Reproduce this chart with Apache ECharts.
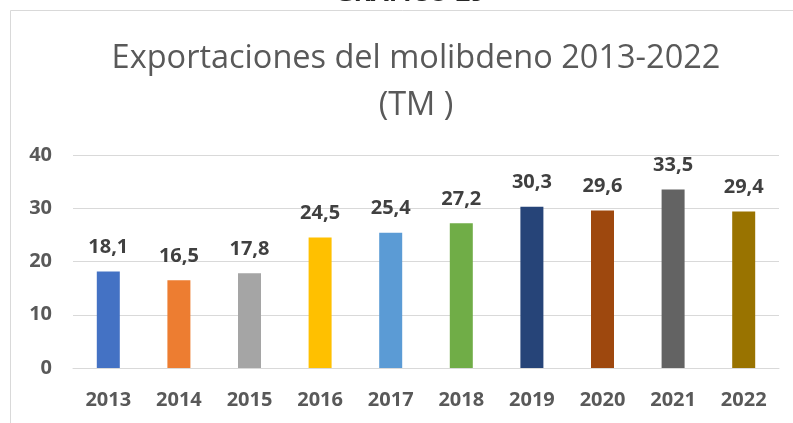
<!DOCTYPE html>
<html>
<head>
<meta charset="utf-8">
<script src="https://cdn.jsdelivr.net/npm/echarts@6/dist/echarts.min.js"></script>
<style>
html,body{margin:0;padding:0;background:#fff;}
#c{width:793px;height:423px;}
</style>
</head>
<body>
<div id="c"></div>
<script>
var years = ['2013','2014','2015','2016','2017','2018','2019','2020','2021','2022'];
var exportsTM = [18.1, 16.5, 17.8, 24.5, 25.4, 27.2, 30.3, 29.6, 33.5, 29.4];
var barColors = ['#4472C4','#ED7D31','#A5A5A5','#FFC000','#5B9BD5','#70AD47','#264478','#9E480E','#636363','#997300'];
var yTicks = [0, 10, 20, 30, 40];

var chart = echarts.init(document.getElementById('c'), null, {renderer:'canvas'});
var FONT = '"Open Sans", sans-serif';
chart.setOption({
  animation: false,
  backgroundColor: '#ffffff',
  graphic: [
    {type:'rect', shape:{x:10.5, y:10.5, width:900, height:500}, style:{fill:'none', stroke:'#d9d9d9', lineWidth:1}, silent:true, z:-1},
    {type:'text', x:410, y:-19, style:{text:'GRÁFICO 29', textAlign:'center', textVerticalAlign:'top', fontFamily:FONT, fontWeight:'bold', fontSize:26, fill:'#262626'}}
  ],
  title: {
    text: 'Exportaciones del molibdeno 2013-2022\n(TM )',
    left: 411,
    top: 30,
    textAlign: 'center',
    textStyle: {fontFamily: FONT, fontWeight: 'normal', fontSize: 32.5, lineHeight: 47, color: '#595959'}
  },
  grid: {left: 73, right: 14, top: 155, bottom: 55, containLabel: false},
  xAxis: {
    type: 'category',
    data: years,
    axisTick: {show: false},
    axisLine: {lineStyle: {color: '#d9d9d9', width: 1}},
    axisLabel: {margin: 22, fontFamily: FONT, fontWeight: 'bold', fontSize: 20, color: '#595959'}
  },
  yAxis: {
    type: 'value',
    min: yTicks[0],
    max: yTicks[yTicks.length-1],
    interval: 10,
    axisLine: {show: false},
    axisTick: {show: false},
    splitLine: {lineStyle: {color: '#d9d9d9', width: 1}},
    axisLabel: {margin: 21, fontFamily: FONT, fontWeight: 'bold', fontSize: 20, color: '#595959'}
  },
  series: [{
    type: 'bar',
    barWidth: 23,
    data: exportsTM.map(function(v, i){ return {value: v, itemStyle: {color: barColors[i]}}; }),
    label: {
      show: true,
      position: 'top',
      distance: 14,
      fontFamily: FONT,
      fontWeight: 'bold',
      fontSize: 20,
      color: '#404040',
      formatter: function(p){ return String(p.value).replace('.', ','); }
    }
  }]
});
</script>
</body>
</html>
